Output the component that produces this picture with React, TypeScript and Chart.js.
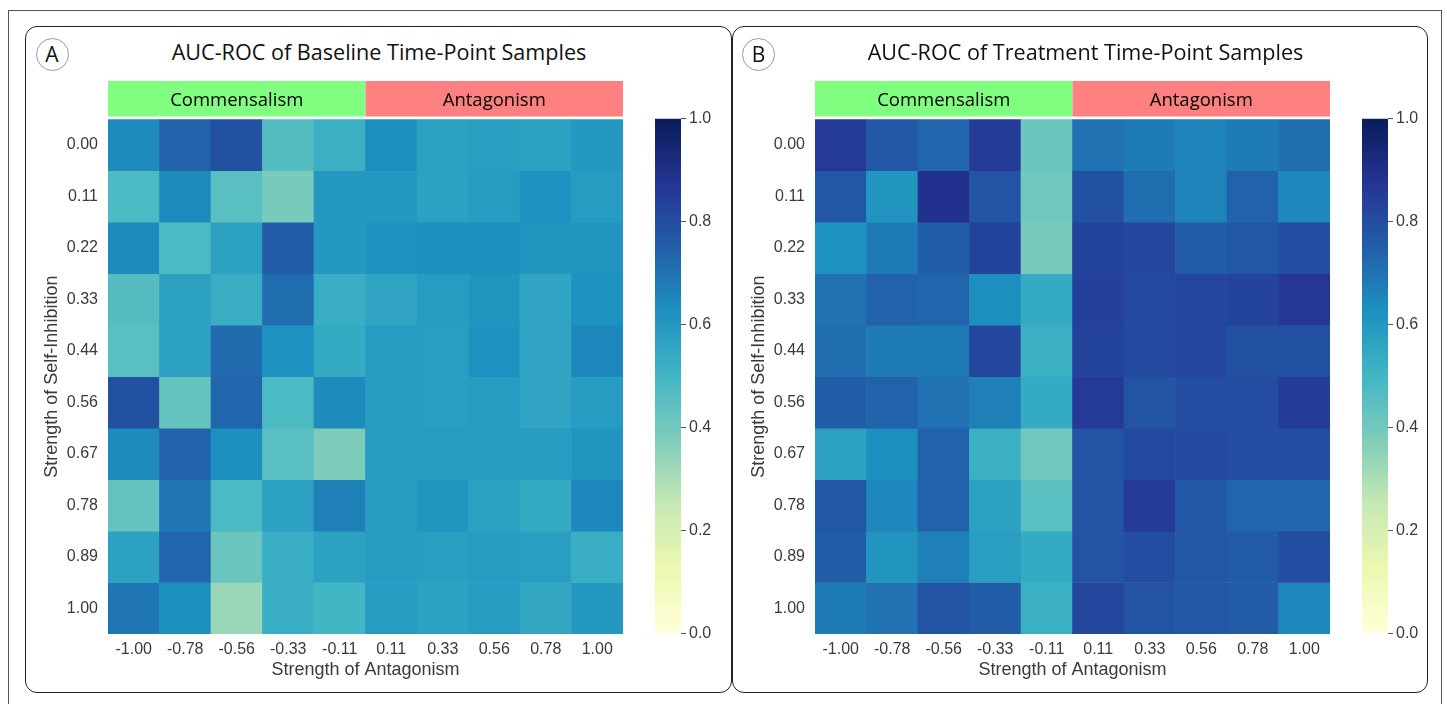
import React, { useEffect, useRef } from 'react';
import { Chart, registerables } from 'chart.js';

Chart.register(...registerables);

// ---------- data ----------
const colLabels = ['-1.00', '-0.78', '-0.56', '-0.33', '-0.11', '0.11', '0.33', '0.56', '0.78', '1.00'];
const rowLabels = ['0.00', '0.11', '0.22', '0.33', '0.44', '0.56', '0.67', '0.78', '0.89', '1.00'];
const colorbarTicks = [0, 0.2, 0.4, 0.6, 0.8, 1.0];
const colorRange = [0, 1];

const groupLabels = ['Commensalism', 'Antagonism'];
const groupFirstCol = [0, 5];
const groupLastCol = [4, 9];

const panelLetters = ['A', 'B'];
const panelTitles = ['AUC-ROC of Baseline Time-Point Samples', 'AUC-ROC of Treatment Time-Point Samples'];

// rows: strength of self-inhibition 0.00 .. 1.00 ; columns: strength of antagonism -1.00 .. 1.00
const baselineAuc = [
  [0.64, 0.74, 0.79, 0.46, 0.52, 0.63, 0.57, 0.58, 0.57, 0.60],
  [0.48, 0.64, 0.45, 0.39, 0.60, 0.60, 0.57, 0.59, 0.62, 0.59],
  [0.64, 0.48, 0.57, 0.76, 0.60, 0.62, 0.63, 0.63, 0.61, 0.61],
  [0.46, 0.57, 0.53, 0.71, 0.53, 0.56, 0.59, 0.61, 0.56, 0.62],
  [0.45, 0.57, 0.72, 0.62, 0.54, 0.59, 0.58, 0.62, 0.56, 0.65],
  [0.79, 0.43, 0.73, 0.48, 0.64, 0.59, 0.58, 0.59, 0.56, 0.59],
  [0.64, 0.74, 0.63, 0.45, 0.38, 0.59, 0.59, 0.59, 0.59, 0.61],
  [0.43, 0.69, 0.48, 0.57, 0.67, 0.59, 0.61, 0.57, 0.54, 0.65],
  [0.57, 0.73, 0.42, 0.53, 0.57, 0.59, 0.58, 0.59, 0.58, 0.53],
  [0.69, 0.63, 0.33, 0.53, 0.50, 0.59, 0.57, 0.59, 0.55, 0.60],
];

const treatmentAuc = [
  [0.86, 0.77, 0.73, 0.85, 0.42, 0.70, 0.68, 0.66, 0.68, 0.71],
  [0.77, 0.61, 0.89, 0.78, 0.40, 0.79, 0.71, 0.66, 0.74, 0.65],
  [0.62, 0.68, 0.75, 0.83, 0.39, 0.83, 0.82, 0.76, 0.77, 0.80],
  [0.70, 0.74, 0.73, 0.63, 0.54, 0.84, 0.81, 0.82, 0.83, 0.87],
  [0.71, 0.68, 0.68, 0.82, 0.52, 0.83, 0.81, 0.82, 0.79, 0.79],
  [0.75, 0.74, 0.70, 0.67, 0.54, 0.86, 0.78, 0.80, 0.80, 0.85],
  [0.57, 0.63, 0.74, 0.52, 0.40, 0.78, 0.81, 0.81, 0.80, 0.80],
  [0.77, 0.65, 0.74, 0.57, 0.45, 0.78, 0.86, 0.77, 0.73, 0.73],
  [0.75, 0.61, 0.67, 0.58, 0.54, 0.78, 0.80, 0.77, 0.76, 0.80],
  [0.68, 0.70, 0.78, 0.76, 0.52, 0.82, 0.78, 0.77, 0.76, 0.65],
];

const panelValues = [baselineAuc, treatmentAuc];

// ---------- style ----------
const YLGNBU = ['#ffffd9', '#edf8b1', '#c7e9b4', '#7fcdbb', '#41b6c4', '#1d91c0', '#225ea8', '#253494', '#081d58'];
const GROUP_COLORS = ['#80ff80', '#ff8080'];
const TICK_COLOR = '#3a3a3a';
const SANS = '"Liberation Sans", Arial, sans-serif';
const TITLE_FONT = '"Open Sans", "Noto Sans", sans-serif';

function hexToRgb(h: string) {
  const n = parseInt(h.slice(1), 16);
  return [(n >> 16) & 255, (n >> 8) & 255, n & 255];
}
const STOPS = YLGNBU.map(hexToRgb);

function ylgnbu(v: number) {
  const t = Math.min(1, Math.max(0, (v - colorRange[0]) / (colorRange[1] - colorRange[0])));
  const pos = t * (STOPS.length - 1);
  const i = Math.min(STOPS.length - 2, Math.floor(pos));
  const f = pos - i;
  const a = STOPS[i];
  const b = STOPS[i + 1];
  const c = a.map((x, k) => Math.round(x + (b[k] - x) * f));
  return `rgb(${c[0]},${c[1]},${c[2]})`;
}

const groupBandPlugin = {
  id: 'groupBand',
  afterDraw(chart: any) {
    const { ctx, chartArea, scales } = chart;
    const x = scales.x;
    const half = (x.getPixelForValue(1) - x.getPixelForValue(0)) / 2;
    const y0 = chartArea.top - 38.3;
    const y1 = chartArea.top - 2.8;
    ctx.save();
    groupLabels.forEach((label, g) => {
      const x0 = x.getPixelForValue(groupFirstCol[g]) - half;
      const x1 = x.getPixelForValue(groupLastCol[g]) + half;
      ctx.fillStyle = GROUP_COLORS[g];
      ctx.fillRect(x0, y0, x1 - x0, y1 - y0);
      ctx.fillStyle = '#000';
      ctx.font = `18.5px ${TITLE_FONT}`;
      ctx.textAlign = 'center';
      ctx.textBaseline = 'middle';
      ctx.fillText(label, (x0 + x1) / 2, (y0 + y1) / 2 + 1.5);
    });
    ctx.restore();
  },
};

function Heatmap({ values, left, top }: { values: number[][]; left: number; top: number }) {
  const ref = useRef<HTMLCanvasElement>(null);
  useEffect(() => {
    const chart = new Chart(ref.current as HTMLCanvasElement, {
      type: 'bar',
      data: {
        labels: colLabels,
        datasets: rowLabels.map((rl, r) => ({
          label: rl,
          data: colLabels.map(() => [r, r + 1]),
          backgroundColor: values[r].map(ylgnbu),
          borderWidth: 0,
          barPercentage: 1,
          categoryPercentage: 1,
          grouped: false,
        })),
      } as any,
      options: {
        animation: false,
        responsive: false,
        maintainAspectRatio: false,
        layout: { padding: { top: 49.3, right: 7, left: 0, bottom: 0 } },
        plugins: { legend: { display: false }, tooltip: { enabled: false } },
        scales: {
          x: {
            type: 'category',
            grid: { display: false, drawTicks: false },
            border: { display: false },
            ticks: { padding: 6, color: TICK_COLOR, font: { family: SANS, size: 16 }, maxRotation: 0, autoSkip: false },
            title: {
              display: true,
              text: 'Strength of Antagonism',
              color: TICK_COLOR,
              font: { family: SANS, size: 18 },
              padding: { top: 0, bottom: 14 },
            },
            afterFit: (s: any) => { s.height = 61; },
          },
          y: {
            type: 'linear',
            min: 0,
            max: rowLabels.length,
            reverse: true,
            grid: { display: false, drawTicks: false },
            border: { display: false },
            afterBuildTicks: (s: any) => { s.ticks = rowLabels.map((_, i) => ({ value: i + 0.5 })); },
            ticks: {
              padding: 10,
              autoSkip: false,
              color: TICK_COLOR,
              font: { family: SANS, size: 16 },
              callback: (v: any) => rowLabels[Math.floor(Number(v))],
            },
            title: {
              display: true,
              text: 'Strength of Self-Inhibition',
              color: TICK_COLOR,
              font: { family: SANS, size: 18 },
              padding: { top: 11, bottom: 0 },
            },
            afterFit: (s: any) => { s.width = 78; },
          },
        },
      } as any,
      plugins: [groupBandPlugin],
    });
    return () => chart.destroy();
  }, [values]);
  return (
    <canvas
      ref={ref}
      width={600}
      height={625}
      style={{ position: 'absolute', left, top, width: 600, height: 625 }}
    />
  );
}

function Colorbar({ left, top }: { left: number; top: number }) {
  const ref = useRef<HTMLCanvasElement>(null);
  useEffect(() => {
    const chart = new Chart(ref.current as HTMLCanvasElement, {
      type: 'bar',
      data: {
        labels: ['AUC'],
        datasets: [
          {
            data: [[colorRange[0], colorRange[1]]],
            backgroundColor: (c: any) => {
              const ch = c.chart;
              if (!ch.chartArea) return 'rgba(0,0,0,0)';
              const y = ch.scales.y;
              const g = ch.ctx.createLinearGradient(0, y.getPixelForValue(colorRange[0]), 0, y.getPixelForValue(colorRange[1]));
              YLGNBU.forEach((col, i) => g.addColorStop(i / (YLGNBU.length - 1), col));
              return g;
            },
            borderWidth: 0,
            barPercentage: 1,
            categoryPercentage: 1,
            inflateAmount: 0,
          },
        ],
      } as any,
      options: {
        animation: false,
        responsive: false,
        maintainAspectRatio: false,
        layout: { padding: { top: 10, bottom: 9, left: 5, right: 0 } },
        plugins: { legend: { display: false }, tooltip: { enabled: false } },
        scales: {
          x: { display: false },
          y: {
            position: 'right',
            min: colorRange[0],
            max: colorRange[1],
            afterBuildTicks: (s: any) => { s.ticks = colorbarTicks.map((v) => ({ value: v })); },
            grid: { drawOnChartArea: false, drawTicks: true, tickLength: 5, color: '#555', lineWidth: 1 },
            border: { display: false },
            ticks: {
              padding: 3,
              color: TICK_COLOR,
              font: { family: SANS, size: 16 },
              callback: (v: any) => Number(v).toFixed(1),
            },
            afterFit: (s: any) => { s.width = 54; },
          },
        },
      } as any,
    });
    return () => chart.destroy();
  }, []);
  return (
    <canvas
      ref={ref}
      width={85}
      height={540}
      style={{ position: 'absolute', left, top, width: 85, height: 540 }}
    />
  );
}

function Panel({ index, dx, width }: { index: number; dx: number; width: number }) {
  return (
    <>
      <div
        style={{
          position: 'absolute',
          left: 25 + dx,
          top: 26,
          width,
          height: 667,
          boxSizing: 'border-box',
          border: '1.5px solid #222',
          borderRadius: 12,
        }}
      />
      <div
        style={{
          position: 'absolute',
          left: 35.5 + dx,
          top: 37.5,
          width: 33,
          height: 33,
          boxSizing: 'border-box',
          border: '1px solid #999',
          borderRadius: '50%',
          fontFamily: TITLE_FONT,
          fontSize: 21,
          lineHeight: '31px',
          textAlign: 'center',
          color: '#111',
        }}
      >
        {panelLetters[index]}
      </div>
      <div
        style={{
          position: 'absolute',
          left: 159 + dx,
          top: 37,
          width: 440,
          textAlign: 'center',
          fontFamily: TITLE_FONT,
          fontSize: 21.6,
          lineHeight: '30px',
          color: '#111',
          whiteSpace: 'nowrap',
        }}
      >
        {panelTitles[index]}
      </div>
      <Heatmap values={panelValues[index]} left={30 + dx} top={70} />
      <Colorbar left={650 + dx} top={106} />
    </>
  );
}

export default function App() {
  return (
    <div
      style={{
        position: 'absolute',
        left: 0,
        top: 0,
        width: 1447,
        height: 704,
        overflow: 'hidden',
        background: '#fff',
      }}
    >
      <div
        style={{
          position: 'absolute',
          left: 8,
          top: 10,
          width: 1434,
          height: 720,
          boxSizing: 'border-box',
          border: '1px solid #555',
        }}
      />
      <Panel index={0} dx={0} width={707} />
      <Panel index={1} dx={706.5} width={696} />
    </div>
  );
}
